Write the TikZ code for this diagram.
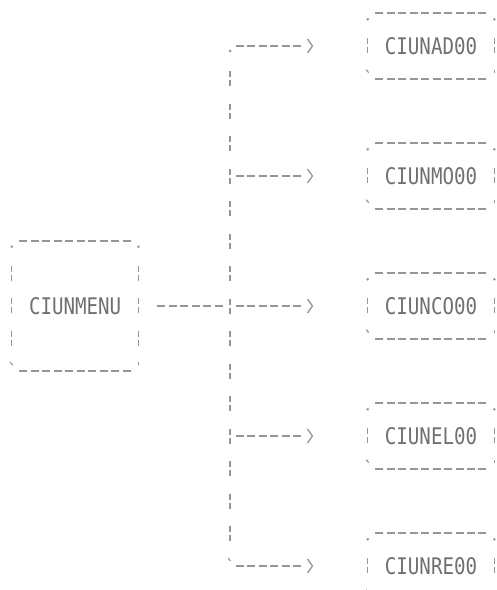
\documentclass[tikz,border=0pt]{standalone}
\usepackage{fontspec}
\newfontfamily\dotfont{DejaVu Sans Mono}
\usetikzlibrary{arrows.meta}
\definecolor{ink}{HTML}{707070}
\definecolor{lineink}{HTML}{959595}
\tikzset{
  boxnode/.style={minimum width=126.3pt, minimum height=65pt, inner sep=0pt,
    text=ink, font=\dotfont\fontsize{20.8}{21}\selectfont},
  mainnode/.style={boxnode, minimum height=130pt},
  hdash/.style={draw=lineink, line width=1.8pt, dash pattern=on 8pt off 3.48pt},
  vbar/.style={draw=lineink, line width=1.3pt, dash pattern=on 6pt off 3pt on 6pt off 17.5pt},
  conn/.style={draw=lineink, line width=1.8pt,
    dash pattern=on 8pt off 3.48pt on 8pt off 3.48pt on 8pt off 3.48pt on 8pt off 3.48pt on 8pt off 3.48pt on 8pt off 60pt,
    -{Straight Barb[length=5pt,width=14pt,line width=1.3pt]}},
  cornerdot/.style={fill=lineink}
}
\newcommand\asciiedges[1]{%
  \draw[hdash] ([xshift=7.48pt]#1.north west) -- ([xshift=-7.48pt]#1.north east);
  \draw[hdash] ([xshift=7.48pt]#1.south west) -- ([xshift=-7.48pt]#1.south east);
  \draw[vbar] ([yshift=-25pt]#1.north west) -- ([yshift=25pt]#1.south west);
  \draw[vbar] ([yshift=-25pt]#1.north east) -- ([yshift=25pt]#1.south east);
  \fill[cornerdot] ([yshift=-6pt]#1.north west) circle (1.4pt);
  \fill[cornerdot] ([yshift=-6pt]#1.north east) circle (1.4pt);
  \draw[lineink, line width=1.1pt] ([xshift=-1.5pt,yshift=9pt]#1.south west) -- ([xshift=1pt,yshift=6pt]#1.south west);
  \draw[lineink, line width=1.1pt] ([xshift=0pt,yshift=9pt]#1.south east) -- ([xshift=0pt,yshift=6pt]#1.south east);
}
\newcommand\lbl[1]{\scalebox{0.92}[1.1]{#1}}
\begin{document}
\begin{tikzpicture}[x=1pt, y=-1pt]
  \path[use as bounding box, clip] (0,0) rectangle (497,590);
  \fill[white] (0,0) rectangle (497,590);

  % main box
  \node[mainnode] (main) at (75.14,306) {\lbl{CIUNMENU}};
  \asciiedges{main}

  % right boxes
  \node[boxnode] (ad) at (431.02,46)  {\lbl{CIUNAD00}};
  \node[boxnode] (mo) at (431.02,176) {\lbl{CIUNMO00}};
  \node[boxnode] (co) at (431.02,306) {\lbl{CIUNCO00}};
  \node[boxnode] (el) at (431.02,436) {\lbl{CIUNEL00}};
  \node[boxnode] (re) at (431.02,566) {\lbl{CIUNRE00}};
  \asciiedges{ad}
  \asciiedges{mo}
  \asciiedges{co}
  \asciiedges{el}
  \asciiedges{re}

  % junction points on the trunk
  \coordinate (j0)  at (230.12,46);
  \coordinate (j4)  at (230.12,176);
  \coordinate (j8)  at (230.12,306);
  \coordinate (j12) at (230.12,436);
  \coordinate (j16) at (230.12,566);

  % trunk
  \draw[vbar, shorten <=25pt, shorten >=25pt] (j0) -- (j16);
  \fill[cornerdot] ([yshift=-5pt]j0) circle (1.4pt);
  \draw[lineink, line width=1.1pt] ([xshift=-2pt,yshift=8pt]j16) -- ([xshift=0.5pt,yshift=5pt]j16);

  % main to trunk
  \draw[hdash, shorten <=18.9pt, shorten >=7.5pt] (main) -- (j8);

  % branches
  \draw[conn, shorten <=5.6pt, shorten >=54.4pt] (j0)  -- (ad);
  \draw[conn, shorten <=5.6pt, shorten >=54.4pt] (j4)  -- (mo);
  \draw[conn, shorten <=5.6pt, shorten >=54.4pt] (j8)  -- (co);
  \draw[conn, shorten <=5.6pt, shorten >=54.4pt] (j12) -- (el);
  \draw[conn, shorten <=5.6pt, shorten >=54.4pt] (j16) -- (re);
\end{tikzpicture}
\end{document}
